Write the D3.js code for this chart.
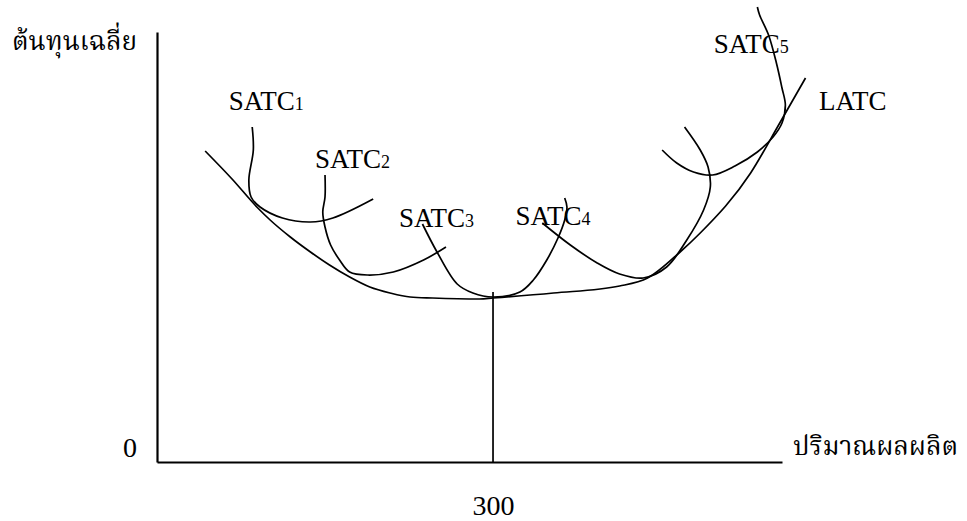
<!DOCTYPE html>
<html>
<head>
<meta charset="utf-8">
<script src="https://cdn.jsdelivr.net/npm/d3@7"></script>
<style>
  body { margin: 0; background: #fff; }
  text { font-family: "Liberation Serif", "Noto Serif Thai", "Noto Sans Thai", "Noto Sans", serif; fill: #000; }
</style>
</head>
<body>
<div id="chart"></div>
<script>
// curves: [quantity, average cost]
const latc = [[43,311],[67,283],[90,254],[101,242],[119,225],[137,210],[154,197],[172,185],[190,175],[208,169],[226,165],[246,164],[288,163],[300,164],[354,169],[413,176],[438,184],[467,210],[485,229],[530,289],[556,339],[579,384]];
const satc1 = [[85,335],[86,312],[82,282],[84,265],[92,255],[112,244],[137,240],[157,244],[193,263]];
const satc2 = [[150,287],[150,265],[148,250],[150,235],[155,217],[163,202],[172,190],[188,187],[211,190],[238,202],[258,215]];
const satc3 = [[237,238],[250,210],[268,178],[282,169],[300,165],[324,170],[336,182],[348,202],[358,224],[364,242],[366,255],[364,264]];
const satc4 = [[344,239],[369,217],[393,199],[413,188],[434,184],[455,195],[473,222],[488,252],[494,275],[492,295],[485,312],[471,335]];
const satc5 = [[451,312],[464,299],[479,290],[496,287],[516,296],[536,310],[550,325],[558,339],[561,357],[558,374],[553,399],[546,427],[538,447],[536,455]];

const curveNames = ["SATC", "SATC", "SATC", "SATC", "SATC"];
const curveSubs = ["1", "2", "3", "4", "5"];
// label anchor points [quantity, cost]
const labelPos = [[64,352],[141,294],[216,235],[320,237],[497,409]];
const latcLabel = [591, 352];

const xTicks = [300];
const xTitle = "ปริมาณผลผลิต";
const yTitle = "ต้นทุนเฉลี่ย";

const margin = {top: 32, right: 185, bottom: 59, left: 157};
const width = 625;
const height = 430;

const svg = d3.select("#chart")
  .append("svg")
  .attr("width", width + margin.left + margin.right)
  .attr("height", height + margin.top + margin.bottom)
  .append("g")
  .attr("transform", "translate(" + margin.left + "," + margin.top + ")");

const x = d3.scaleLinear().domain([0, 558]).range([0, width]);
const y = d3.scaleLinear().domain([0, 430]).range([height, 0]);

// axes
svg.append("g")
  .attr("transform", "translate(0," + height + ")")
  .call(d3.axisBottom(x).tickValues(xTicks).tickSize(0).tickSizeOuter(0).tickPadding(33))
  .call(g => g.select(".domain").attr("stroke-width", 2.2))
  .call(g => g.selectAll("text").style("font-size", "28px").style("font-family", "Liberation Serif"));

svg.append("g")
  .call(d3.axisLeft(y).tickValues([]).tickSizeOuter(0))
  .call(g => g.select(".domain").attr("stroke-width", 2.2));

svg.append("text")
  .attr("x", -34)
  .attr("y", height - 5)
  .style("font-size", "28px")
  .text("0");

// vertical line at q = 300 up to LATC
svg.append("line")
  .attr("x1", x(300)).attr("x2", x(300))
  .attr("y1", y(0)).attr("y2", y(170))
  .attr("stroke", "#000")
  .attr("stroke-width", 1.7);

const line = d3.line()
  .x(d => x(d[0]))
  .y(d => y(d[1]))
  .curve(d3.curveCatmullRom.alpha(0.5));

const lineLatc = d3.line()
  .x(d => x(d[0]))
  .y(d => y(d[1]))
  .curve(d3.curveMonotoneX);

svg.append("path")
  .datum(latc)
  .attr("d", lineLatc)
  .attr("fill", "none")
  .attr("stroke", "#000")
  .attr("stroke-width", 1.7);

[satc1, satc2, satc3, satc4, satc5].forEach(c => {
  svg.append("path")
    .datum(c)
    .attr("d", line)
    .attr("fill", "none")
    .attr("stroke", "#000")
    .attr("stroke-width", 1.7);
});

// labels
curveNames.forEach((n, i) => {
  const t = svg.append("text")
    .attr("x", x(labelPos[i][0]))
    .attr("y", y(labelPos[i][1]))
    .style("font-size", "27px")
    .text(n);
  t.append("tspan")
    .style("font-size", "18px")
    .text(curveSubs[i]);
});

svg.append("text")
  .attr("x", x(latcLabel[0]))
  .attr("y", y(latcLabel[1]))
  .style("font-size", "27px")
  .text("LATC");

svg.append("text")
  .attr("x", x(558) + 11)
  .attr("y", height - 7)
  .style("font-size", "26px")
  .text(xTitle);

svg.append("text")
  .attr("x", -145)
  .attr("y", 18)
  .style("font-size", "26px")
  .text(yTitle);
</script>
</body>
</html>
